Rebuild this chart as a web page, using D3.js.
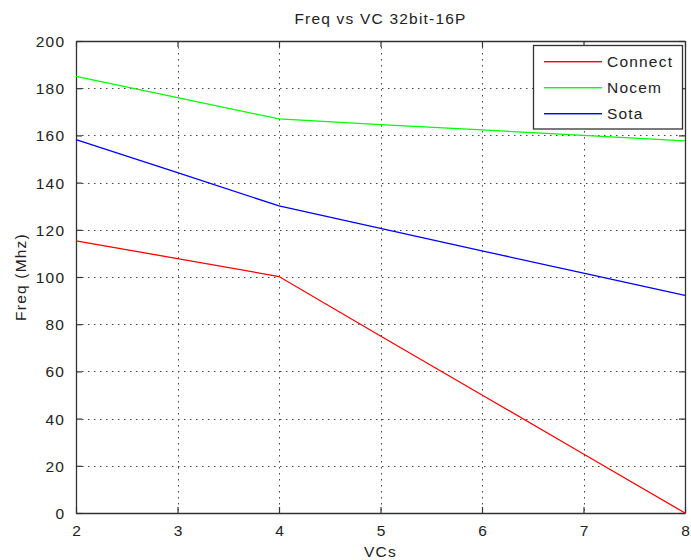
<!DOCTYPE html>
<html>
<head>
<meta charset="utf-8">
<script src="https://cdn.jsdelivr.net/npm/d3@7"></script>
<style>
  html, body { margin: 0; padding: 0; background: #fff; }
  svg { display: block; }
  text { font-family: "Liberation Sans", Arial, Helvetica, sans-serif; fill: #222; letter-spacing: 1.2px; }
</style>
</head>
<body>
<svg id="chart" width="691" height="560"></svg>
<script>
const titleText = "Freq vs VC 32bit-16P";
const xLabel = "VCs";
const yLabel = "Freq (Mhz)";
const vcs = [2, 3, 4, 5, 6, 7, 8];
const connect = [115.3, 107.8, 100.2, 75, 50, 25, 0];
const nocem = [185, 176, 167, 164.6, 162.3, 160, 157.7];
const sota = [158.2, 144.2, 130.1, 120.6, 111.1, 101.6, 92.2];
const seriesNames = ["Connect", "Nocem", "Sota"];
const seriesColors = ["#ff0000", "#00ff00", "#0000ff"];
const xTicks = [2, 3, 4, 5, 6, 7, 8];
const yTicks = [0, 20, 40, 60, 80, 100, 120, 140, 160, 180, 200];

const seriesValues = [connect, nocem, sota];

const svg = d3.select("#chart");
const L = 76, R = 685, T = 41, B = 513;
const x = d3.scaleLinear().domain([2, 8]).range([L, R]);
const y = d3.scaleLinear().domain([0, 200]).range([B, T]);
const axisColor = "#333";
const fs = "15.5px";

// grid
const grid = svg.append("g");
grid.selectAll("line.gx").data(xTicks.filter(d => d > 2 && d < 8)).enter().append("line")
  .attr("x1", d => Math.round(x(d)) + 0.5).attr("x2", d => Math.round(x(d)) + 0.5)
  .attr("y1", T).attr("y2", B)
  .attr("stroke", "#444").attr("stroke-width", 1).attr("stroke-dasharray", "1.5,4.5");
grid.selectAll("line.gy").data(yTicks.filter(d => d > 0 && d < 200)).enter().append("line")
  .attr("y1", d => Math.round(y(d)) + 0.5).attr("y2", d => Math.round(y(d)) + 0.5)
  .attr("x1", L).attr("x2", R)
  .attr("stroke", "#444").attr("stroke-width", 1).attr("stroke-dasharray", "1.5,4.5");

// axes via d3 axis (inward ticks)
const xAxisB = d3.axisBottom(x).tickValues(xTicks).tickSizeInner(-6).tickSizeOuter(0).tickPadding(12).tickFormat(d3.format("d"));
const xAxisT = d3.axisTop(x).tickValues(xTicks).tickSizeInner(-6).tickSizeOuter(0).tickFormat("");
const yAxisL = d3.axisLeft(y).tickValues(yTicks).tickSizeInner(-6).tickSizeOuter(0).tickPadding(12).tickFormat(d3.format("d"));
const yAxisR = d3.axisRight(y).tickValues(yTicks).tickSizeInner(-6).tickSizeOuter(0).tickFormat("");

function styleAxis(g) {
  g.select(".domain").attr("stroke", axisColor).attr("stroke-width", 1.3);
  g.selectAll(".tick line").attr("stroke", axisColor).attr("stroke-width", 1.2);
  g.selectAll(".tick text").attr("font-size", fs).attr("font-family", null).attr("fill", "#222");
}
svg.append("g").attr("transform", `translate(0,${B})`).call(xAxisB).call(styleAxis)
  .selectAll(".tick text").attr("dy", "0.71em").attr("dx", "0.6px");
svg.append("g").attr("transform", `translate(0,${T})`).call(xAxisT).call(styleAxis);
svg.append("g").attr("transform", `translate(${L},0)`).call(yAxisL).call(styleAxis)
  .selectAll(".tick text").attr("dx", "1.2px").attr("dy", "0.36em");
svg.append("g").attr("transform", `translate(${R},0)`).call(yAxisR).call(styleAxis);

// lines
const line = d3.line().x((d, i) => x(vcs[i])).y(d => y(d));
seriesValues.forEach((vals, k) => {
  svg.append("path").datum(vals).attr("d", line)
    .attr("fill", "none").attr("stroke", seriesColors[k]).attr("stroke-width", 1.3);
});

// legend
const lg = svg.append("g");
lg.append("rect").attr("x", 533.5).attr("y", 45.5).attr("width", 149).attr("height", 83.5)
  .attr("fill", "#fff").attr("stroke", axisColor).attr("stroke-width", 1.3);
const rowY = [61.5, 87.5, 113.5];
seriesNames.forEach((n, k) => {
  lg.append("rect").attr("x", 544).attr("y", rowY[k] - 0.5).attr("width", 58).attr("height", 1.4)
    .attr("fill", seriesColors[k]);
  lg.append("text").attr("x", 607).attr("y", rowY[k]).attr("dy", "0.36em")
    .attr("font-size", fs).text(n);
});

// title and labels
svg.append("text").attr("x", (L + R) / 2).attr("y", 23.5).attr("text-anchor", "middle")
  .attr("font-size", fs).text(titleText);
svg.append("text").attr("x", (L + R) / 2).attr("y", 557).attr("text-anchor", "middle")
  .attr("font-size", fs).text(xLabel);
svg.append("text").attr("transform", `translate(26,${(T + B) / 2}) rotate(-90)`)
  .attr("text-anchor", "middle").attr("font-size", fs).text(yLabel);
</script>
</body>
</html>
